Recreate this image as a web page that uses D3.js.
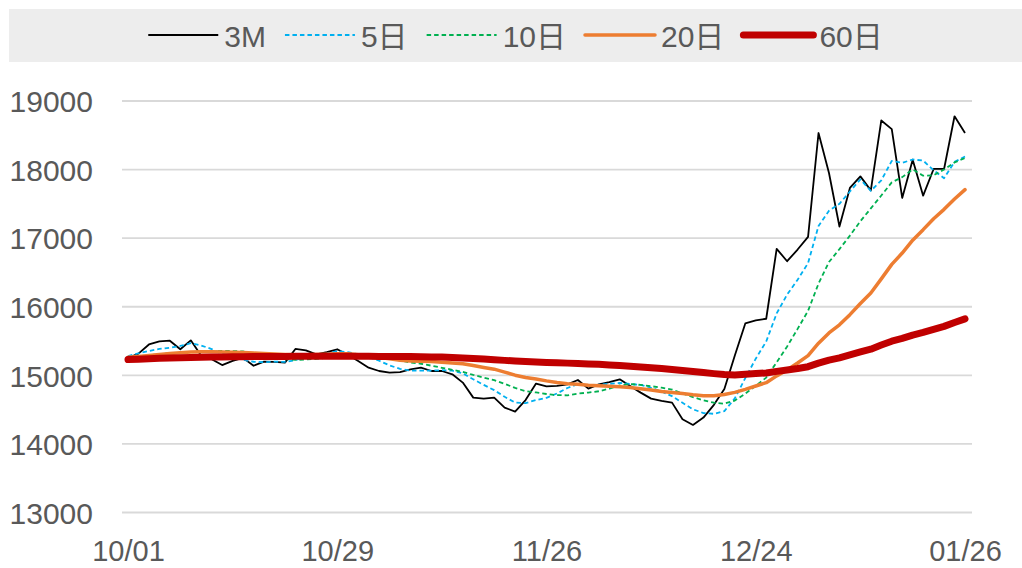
<!DOCTYPE html>
<html>
<head>
<meta charset="utf-8">
<script src="https://cdn.jsdelivr.net/npm/d3@7"></script>
<style>
  html, body { margin: 0; padding: 0; background: #ffffff; }
  svg { display: block; }
  text { font-family: "Liberation Sans", Arial, "Noto Sans CJK SC", sans-serif; fill: #595959; }
</style>
</head>
<body>
<svg id="chart" width="1022" height="568"></svg>
<script>
// ---- data ----
const dates = [
  "10/01","10/02","10/05","10/06","10/07","10/08","10/09","10/12","10/13","10/14","10/15","10/16","10/19","10/20","10/21","10/22","10/23","10/26","10/27","10/28","10/29","10/30",
  "11/02","11/03","11/04","11/05","11/06","11/09","11/10","11/11","11/12","11/13","11/16","11/17","11/18","11/19","11/20","11/23","11/24","11/25","11/26","11/27","11/30",
  "12/01","12/02","12/03","12/04","12/07","12/08","12/09","12/10","12/11","12/14","12/15","12/16","12/17","12/18","12/21","12/22","12/23","12/24","12/29","12/30","12/31",
  "01/04","01/05","01/06","01/07","01/08","01/11","01/12","01/13","01/14","01/15","01/18","01/19","01/20","01/21","01/22","01/25","01/26"
];
const tickLabels = ["10/01","10/29","11/26","12/24","01/26"];
const yTicks = [13000,14000,15000,16000,17000,18000,19000];
const seriesNames = ["3M","5日","10日","20日","60日"];

const s3M = [15250,15316,15450,15495,15505,15380,15510,15285,15235,15150,
  15210,15255,15140,15200,15195,15185,15385,15365,15305,15340,
  15380,15300,15210,15112,15063,15039,15048,15087,15112,15063,
  15063,15015,14894,14675,14660,14675,14530,14471,14640,14880,
  14840,14845,14869,14932,14806,14869,14902,14942,14845,14748,
  14660,14626,14602,14360,14277,14384,14570,14800,15290,15757,
  15800,15825,16844,16664,16834,17019,18533,17950,17170,17732,
  17901,17697,18716,18590,17587,18144,17620,18009,18009,18777,18533];
const s5 = [15280,15320,15355,15385,15403,15429,15468,15435,15383,15312,
  15278,15227,15198,15191,15200,15195,15221,15266,15287,15316,
  15355,15338,15307,15268,15213,15145,15094,15070,15070,15070,
  15075,15068,15029,14942,14861,14784,14687,14602,14595,14639,
  14672,14735,14815,14873,14858,14864,14876,14890,14873,14861,
  14819,14764,14696,14599,14505,14450,14439,14478,14664,14960,
  15243,15494,15903,16178,16393,16637,17179,17400,17501,17681,
  17857,17690,17843,18127,18098,18147,18131,17990,17874,18112,18190];
const s10 = [15260,15270,15290,15310,15320,15330,15340,15345,15350,15358,
  15354,15348,15317,15287,15256,15237,15224,15232,15239,15258,
  15275,15280,15287,15278,15265,15250,15216,15188,15169,15141,
  15110,15081,15050,15006,14966,14929,14877,14816,14769,14750,
  14728,14711,14709,14734,14749,14768,14805,14853,14873,14860,
  14842,14820,14793,14736,14683,14635,14601,14587,14632,14733,
  14847,14967,15191,15421,15677,15940,16337,16652,16840,17037,
  17247,17434,17622,17814,17890,18002,17911,17917,18001,18105,18168];
const s20 = [15262,15275,15290,15305,15318,15330,15340,15345,15345,15342,
  15338,15332,15325,15318,15312,15305,15300,15300,15304,15308,
  15314,15314,15302,15282,15260,15243,15220,15210,15204,15200,
  15192,15180,15168,15142,15115,15090,15047,15002,14969,14946,
  14919,14896,14879,14870,14857,14849,14841,14834,14821,14805,
  14785,14765,14751,14735,14716,14701,14703,14720,14752,14796,
  14844,14893,14992,15079,15180,15287,15469,15619,15736,15885,
  16047,16200,16406,16618,16783,16971,17124,17284,17420,17571,17708];
const s60 = [15230,15236,15242,15248,15253,15257,15261,15264,15267,15269,
  15271,15272,15273,15274,15275,15276,15277,15278,15278,15279,
  15279,15279,15278,15277,15276,15275,15274,15273,15271,15269,
  15266,15260,15254,15247,15238,15228,15218,15208,15200,15194,
  15188,15183,15178,15172,15166,15160,15152,15143,15133,15122,
  15110,15098,15085,15070,15055,15040,15025,15012,15006,15017,
  15026,15034,15058,15077,15099,15126,15177,15221,15254,15297,
  15341,15382,15442,15498,15538,15587,15625,15669,15714,15771,15824];

// ---- styles ----
const styles = [
  { color: "#000000", width: 1.8, dash: null,    cap: "butt"  },
  { color: "#00B0F0", width: 1.8, dash: "4.5,3", cap: "butt"  },
  { color: "#00B050", width: 1.8, dash: "4.5,3", cap: "butt"  },
  { color: "#ED7D31", width: 3.5, dash: null,    cap: "round" },
  { color: "#C00000", width: 7,   dash: null,    cap: "round" }
];
const allSeries = [s3M, s5, s10, s20, s60];

const svg = d3.select("#chart");
svg.append("rect").attr("width", 1022).attr("height", 568).attr("fill", "#ffffff");

const x = d3.scalePoint().domain(dates).range([128, 965]);
const y = d3.scaleLinear().domain([13000, 19000]).range([512.5, 101]);

// gridlines
svg.append("g").selectAll("line").data(yTicks).join("line")
  .attr("x1", 122).attr("x2", 972)
  .attr("y1", d => y(d)).attr("y2", d => y(d))
  .attr("stroke", "#D9D9D9").attr("stroke-width", 1.8);

// y axis labels
const yAxis = d3.axisLeft(y).tickValues(yTicks).tickSize(0).tickPadding(0).tickFormat(d3.format("d"));
const gy = svg.append("g").attr("transform", "translate(93,0)").call(yAxis);
gy.select(".domain").remove();
gy.selectAll("text").attr("font-size", 30).attr("fill", "#595959")
  .attr("font-family", "'Liberation Sans', Arial, sans-serif").attr("dy", "0.36em");

// x axis labels
const xAxis = d3.axisBottom(x).tickValues(tickLabels).tickSize(0).tickPadding(0);
const gx = svg.append("g").attr("transform", "translate(0,540)").call(xAxis);
gx.select(".domain").remove();
gx.selectAll("text").attr("font-size", 29).attr("fill", "#595959")
  .attr("font-family", "'Liberation Sans', Arial, sans-serif").attr("dy", "0.72em");

// lines
const line = d3.line().x((d, i) => x(dates[i])).y(d => y(d));
allSeries.forEach((s, k) => {
  const st = styles[k];
  svg.append("path").datum(s)
    .attr("d", line)
    .attr("fill", "none")
    .attr("stroke", st.color)
    .attr("stroke-width", st.width)
    .attr("stroke-linejoin", "round")
    .attr("stroke-linecap", st.cap)
    .attr("stroke-dasharray", st.dash);
});

// legend
svg.append("rect").attr("x", 9).attr("y", 9).attr("width", 1013).attr("height", 53).attr("fill", "#EDEDED");
const lg = svg.append("g");
const lineLen = 70, gapText = 6, gapItem = 19;
let cx = 0;
seriesNames.forEach((name, k) => {
  const g = lg.append("g");
  const st = styles[k];
  g.append("line").attr("x1", cx).attr("x2", cx + lineLen).attr("y1", 35).attr("y2", 35)
    .attr("stroke", st.color).attr("stroke-width", st.width)
    .attr("stroke-linecap", st.cap).attr("stroke-dasharray", st.dash);
  const t = g.append("text").attr("x", cx + lineLen + gapText).attr("y", 47)
    .attr("font-size", 30).text(name);
  const w = t.node().getComputedTextLength();
  cx += lineLen + gapText + w + gapItem;
});
const totalW = cx - gapItem;
lg.attr("transform", `translate(${515.5 - totalW / 2},0)`);
</script>
</body>
</html>
